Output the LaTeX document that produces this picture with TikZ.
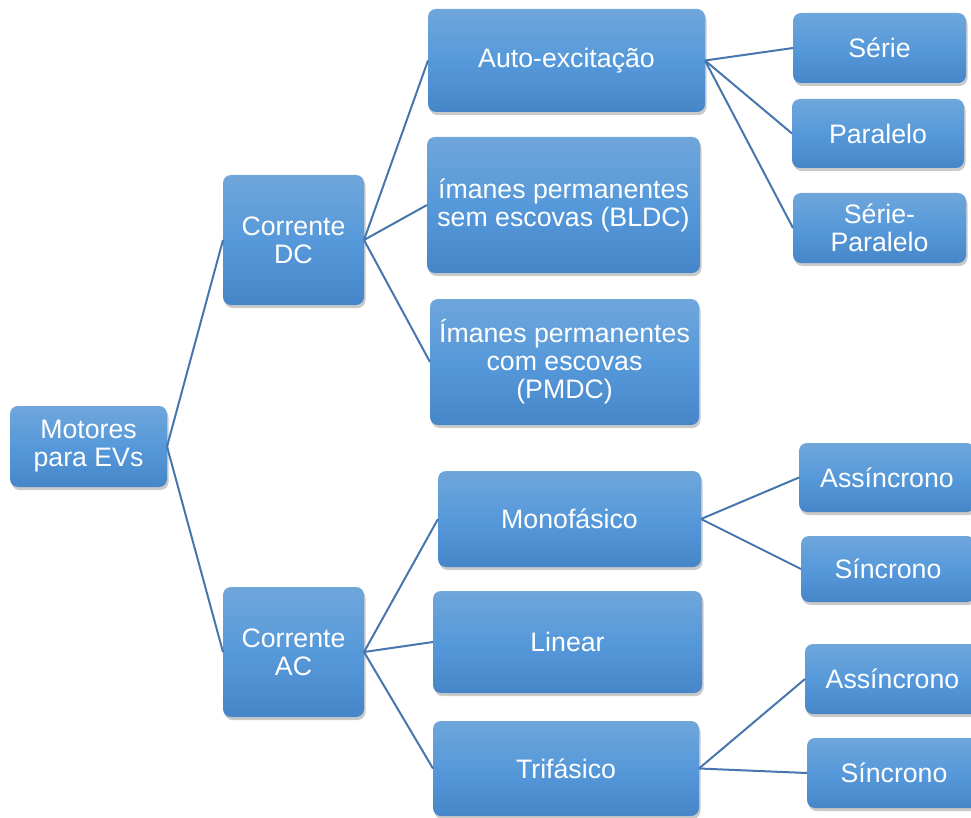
\documentclass[tikz,border=0pt]{standalone}
\usepackage{fontspec}
\setmainfont{Liberation Sans}
\usetikzlibrary{shadows}
\definecolor{boxtop}{HTML}{6FA6DB}
\definecolor{boxmid}{HTML}{5699DA}
\definecolor{boxbot}{HTML}{4686C8}
\definecolor{linkc}{HTML}{4676AD}
\tikzset{
  box/.style={rectangle, rounded corners=8pt, top color=boxtop, bottom color=boxbot, middle color=boxmid,
    text=white, font=\fontsize{26.7}{28}\selectfont, align=center, inner sep=0pt, outer sep=0pt,
    drop shadow={shadow xshift=1.5pt, shadow yshift=-3pt, opacity=0.35, fill=black!60}},
  link/.style={draw=linkc, line width=2pt}
}
\begin{document}
\begin{tikzpicture}[x=1pt,y=-1pt]
\useasboundingbox (0,0) rectangle (971,818);
\node[box, minimum width=157pt, minimum height=81pt] (mot) at (88.5,446.5) {Motores\\para EVs};
\node[box, minimum width=141pt, minimum height=130pt] (dc) at (293.5,240) {Corrente\\DC};
\node[box, minimum width=141pt, minimum height=130pt] (ac) at (293.5,652) {Corrente\\AC};
\node[box, minimum width=277pt, minimum height=103pt] (auto) at (566.5,60.5) {Auto-excitação};
\node[box, minimum width=273pt, minimum height=136pt] (bldc) at (563.5,205) {ímanes permanentes\\sem escovas (BLDC)};
\node[box, minimum width=269pt, minimum height=126pt] (pmdc) at (564.5,362) {Ímanes permanentes\\com escovas\\(PMDC)};
\node[box, minimum width=263pt, minimum height=96pt] (mono) at (569.5,519) {Monofásico};
\node[box, minimum width=269pt, minimum height=102pt] (lin) at (567.5,642) {Linear};
\node[box, minimum width=266pt, minimum height=95pt] (tri) at (566,768.5) {Trifásico};
\node[box, minimum width=173pt, minimum height=70pt] (serie) at (879.5,48) {Série};
\node[box, minimum width=172pt, minimum height=69pt] (par) at (878,133.5) {Paralelo};
\node[box, minimum width=173pt, minimum height=70pt] (sp) at (879.5,228) {Série-\\Paralelo};
\node[box, minimum width=176pt, minimum height=69pt] (as1) at (887,477.5) {Assíncrono};
\node[box, minimum width=174pt, minimum height=66pt] (si1) at (888,569) {Síncrono};
\node[box, minimum width=175pt, minimum height=70pt] (as2) at (892.5,679) {Assíncrono};
\node[box, minimum width=174pt, minimum height=70pt] (si2) at (894,773) {Síncrono};
\draw[link] (mot.east) -- (dc.west);
\draw[link] (mot.east) -- (ac.west);
\draw[link] (dc.east) -- (auto.west);
\draw[link] (dc.east) -- (bldc.west);
\draw[link] (dc.east) -- (pmdc.west);
\draw[link] (ac.east) -- (mono.west);
\draw[link] (ac.east) -- (lin.west);
\draw[link] (ac.east) -- (tri.west);
\draw[link] (auto.east) -- (serie.west);
\draw[link] (auto.east) -- (par.west);
\draw[link] (auto.east) -- (sp.west);
\draw[link] (mono.east) -- (as1.west);
\draw[link] (mono.east) -- (si1.west);
\draw[link] (tri.east) -- (as2.west);
\draw[link] (tri.east) -- (si2.west);
\end{tikzpicture}
\end{document}
